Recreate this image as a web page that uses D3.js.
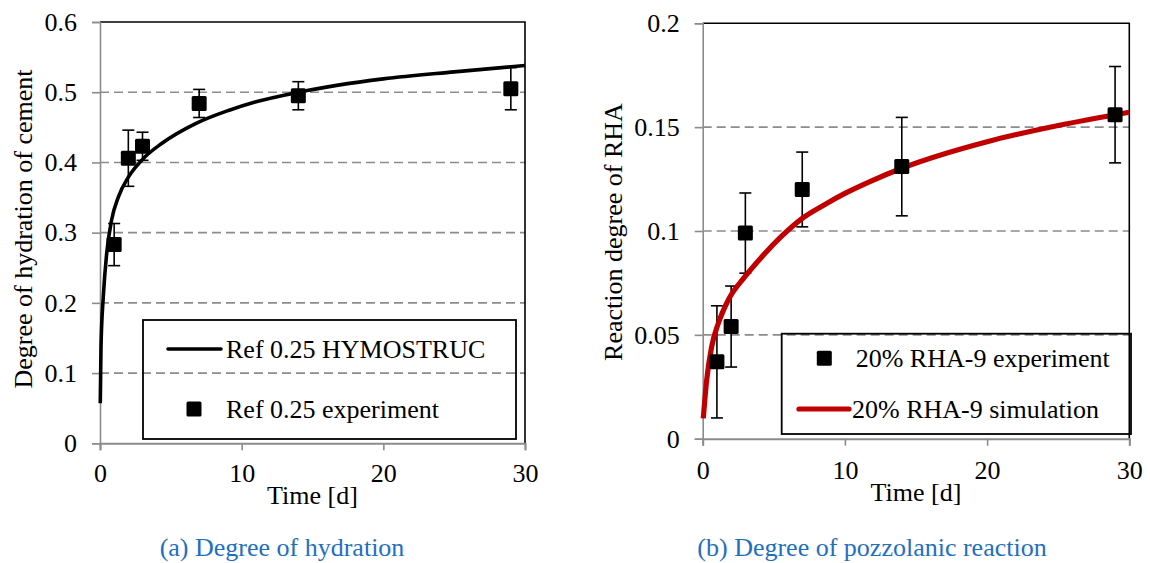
<!DOCTYPE html>
<html>
<head>
<meta charset="utf-8">
<script src="https://cdn.jsdelivr.net/npm/d3@7"></script>
<style>
  html, body { margin: 0; padding: 0; background: #fff; }
  svg { display: block; }
</style>
</head>
<body>
<svg id="chart" width="1150" height="563"></svg>
<script>
// ---------- Data ----------
// Panel (a): degree of hydration of cement
const hydTimes = [1, 2, 3, 7, 14, 29];
const hydExperiment = [0.283, 0.406, 0.423, 0.484, 0.495, 0.505];
const hydError = [0.030, 0.040, 0.020, 0.020, 0.020, 0.030];
const hymoTimes = [0.02, 0.07, 0.23, 0.47, 0.82, 1.3, 2.0, 3.18, 4.35, 6.71, 9.07, 10.95, 14, 20, 25, 30];
const hymoValues = [0.057, 0.137, 0.208, 0.270, 0.318, 0.351, 0.379, 0.408, 0.427, 0.455, 0.474, 0.486, 0.500, 0.519, 0.529, 0.538];
const hydYTicks = [0, 0.1, 0.2, 0.3, 0.4, 0.5, 0.6];

// Panel (b): degree of pozzolanic reaction of RHA
const rhaTimes = [1, 2, 3, 7, 14, 29];
const rhaExperiment = [0.037, 0.054, 0.099, 0.120, 0.131, 0.156];
const rhaError = [0.027, 0.0195, 0.0193, 0.018, 0.0237, 0.0232];
const simTimes = [0.04, 0.28, 0.63, 1.1, 1.8, 2.97, 4.15, 5.55, 7, 8.6, 10, 11.76, 14, 20, 25, 30];
const simValues = [0.0098, 0.0283, 0.0443, 0.0556, 0.0668, 0.078, 0.0875, 0.0975, 0.1061, 0.1128, 0.1181, 0.1238, 0.1302, 0.143, 0.1508, 0.1572];
const rhaYTicks = [0, 0.05, 0.1, 0.15, 0.2];

const xTicks = [0, 10, 20, 30];

// ---------- Drawing ----------
const SERIF = '"Liberation Serif", "Tinos", "Times New Roman", "DejaVu Serif", "Noto Serif", serif';
const svg = d3.select("#chart");
svg.append("rect").attr("width", 1150).attr("height", 563).attr("fill", "#fff");

const FONT = 26;
const GRID = "#8c8c8c";

function styleText(sel) {
  return sel.style("font-family", SERIF).style("font-size", FONT + "px").attr("fill", "#000");
}

function panel(cfg) {
  const x = d3.scaleLinear().domain([0, 30]).range([cfg.x0, cfg.x1]);
  const y = d3.scaleLinear().domain([0, cfg.yMax]).range([cfg.y0, cfg.y1]);
  const g = svg.append("g");

  // dashed gridlines
  g.append("g").selectAll("line")
    .data(cfg.yTicks.filter(v => v > 0 && v < cfg.yMax))
    .join("line")
    .attr("x1", cfg.x0).attr("x2", cfg.x1)
    .attr("y1", d => y(d)).attr("y2", d => y(d))
    .attr("stroke", GRID).attr("stroke-width", 1.6)
    .attr("stroke-dasharray", "9,5");

  // top & right border (black)
  g.append("path")
    .attr("d", `M${cfg.x0},${y(cfg.yMax)}H${cfg.x1}V${cfg.y0}`)
    .attr("fill", "none").attr("stroke", "#000").attr("stroke-width", 1.6);

  // y axis
  const yAxis = d3.axisLeft(y).tickValues(cfg.yTicks).tickSize(8).tickPadding(15)
    .tickFormat(d => String(+d.toFixed(2)));
  const ya = g.append("g").attr("transform", `translate(${cfg.x0},0)`).call(yAxis);
  ya.select(".domain").attr("stroke", GRID).attr("stroke-width", 1.6);
  ya.selectAll(".tick line").attr("stroke", GRID).attr("stroke-width", 1.6);
  styleText(ya.selectAll(".tick text"));

  // x axis
  const xAxis = d3.axisBottom(x).tickValues(xTicks).tickSize(7).tickPadding(cfg.xPad)
    .tickFormat(d3.format("d"));
  const xa = g.append("g").attr("transform", `translate(0,${cfg.y0})`).call(xAxis);
  xa.select(".domain").attr("stroke", GRID).attr("stroke-width", 2);
  xa.selectAll(".tick line").attr("stroke", GRID).attr("stroke-width", 1.6);
  styleText(xa.selectAll(".tick text"));

  // axis titles
  styleText(g.append("text").attr("x", (cfg.x0 + cfg.x1) / 2).attr("y", cfg.xTitleY)
    .attr("text-anchor", "middle").text("Time [d]"));
  styleText(g.append("text")
    .attr("transform", `translate(${cfg.yTitleX},${cfg.yTitleCY}) rotate(-90)`)
    .attr("text-anchor", "middle").text(cfg.yTitle));

  // error bars
  const eb = g.append("g").attr("stroke", "#000").attr("stroke-width", 1.6);
  cfg.times.forEach((t, i) => {
    const cx = x(t), hi = y(cfg.exp[i] + cfg.err[i]), lo = y(cfg.exp[i] - cfg.err[i]);
    eb.append("line").attr("x1", cx).attr("x2", cx).attr("y1", hi).attr("y2", lo);
    eb.append("line").attr("x1", cx - 6).attr("x2", cx + 6).attr("y1", hi).attr("y2", hi);
    eb.append("line").attr("x1", cx - 6).attr("x2", cx + 6).attr("y1", lo).attr("y2", lo);
  });

  // simulation curve
  const line = d3.line().x(d => x(d[0])).y(d => y(d[1])).curve(d3.curveMonotoneX);
  g.append("path")
    .datum(cfg.simT.map((t, i) => [t, cfg.simV[i]]))
    .attr("d", line).attr("fill", "none")
    .attr("stroke", cfg.simColor).attr("stroke-width", cfg.simWidth)
    .attr("stroke-linecap", "butt");

  // markers
  const M = 15;
  g.append("g").selectAll("rect")
    .data(cfg.times.map((t, i) => [t, cfg.exp[i]]))
    .join("rect")
    .attr("x", d => x(d[0]) - M / 2).attr("y", d => y(d[1]) - M / 2)
    .attr("width", M).attr("height", M).attr("rx", 1.5)
    .attr("fill", "#000");

  // legend
  const L = cfg.legend;
  g.append("rect").attr("x", L.x).attr("y", L.y).attr("width", L.w).attr("height", L.h)
    .attr("fill", "none").attr("stroke", "#000").attr("stroke-width", 1.8);
  L.items.forEach(it => {
    if (it.type === "line") {
      g.append("line").attr("x1", it.sx1).attr("x2", it.sx2).attr("y1", it.sy).attr("y2", it.sy)
        .attr("stroke", cfg.simColor).attr("stroke-width", cfg.simWidth).attr("stroke-linecap", "round");
    } else {
      g.append("rect").attr("x", it.sx - M / 2).attr("y", it.sy - M / 2)
        .attr("width", M).attr("height", M).attr("rx", 1.5).attr("fill", "#000");
    }
    styleText(g.append("text").attr("x", it.tx).attr("y", it.ty).text(it.label));
  });

  // caption
  styleText(svg.append("text").attr("x", cfg.capX).attr("y", 556).attr("text-anchor", "middle")
    .text(cfg.caption)).attr("fill", "#1f6fc0");
}

panel({
  x0: 100, x1: 525, y0: 443.3, y1: 22, yMax: 0.6, yTicks: hydYTicks,
  times: hydTimes, exp: hydExperiment, err: hydError,
  simT: hymoTimes, simV: hymoValues, simColor: "#000", simWidth: 3.6,
  xPad: 13, xTitleY: 504, yTitleX: 32, yTitleCY: 229,
  yTitle: "Degree of hydration of cement",
  legend: { x: 143, y: 320, w: 373, h: 119, items: [
    { type: "line", sx1: 168, sx2: 221, sy: 349, tx: 226, ty: 358, label: "Ref 0.25 HYMOSTRUC" },
    { type: "marker", sx: 194, sy: 409, tx: 226, ty: 418, label: "Ref 0.25 experiment" }
  ]},
  capX: 282, caption: "(a) Degree of hydration"
});

panel({
  x0: 702.7, x1: 1129.3, y0: 438.7, y1: 23.3, yMax: 0.2, yTicks: rhaYTicks,
  times: rhaTimes, exp: rhaExperiment, err: rhaError,
  simT: simTimes, simV: simValues, simColor: "#c00000", simWidth: 5.2,
  xPad: 15, xTitleY: 501, yTitleX: 622, yTitleCY: 232,
  yTitle: "Reaction degree of RHA",
  legend: { x: 781.7, y: 333.7, w: 349.3, h: 100.3, items: [
    { type: "marker", sx: 824.3, sy: 358.3, tx: 855.7, ty: 367, label: "20% RHA-9 experiment" },
    { type: "line", sx1: 799, sx2: 849, sy: 409, tx: 852, ty: 418, label: "20% RHA-9 simulation" }
  ]},
  capX: 872, caption: "(b) Degree of pozzolanic reaction"
});
</script>
</body>
</html>
